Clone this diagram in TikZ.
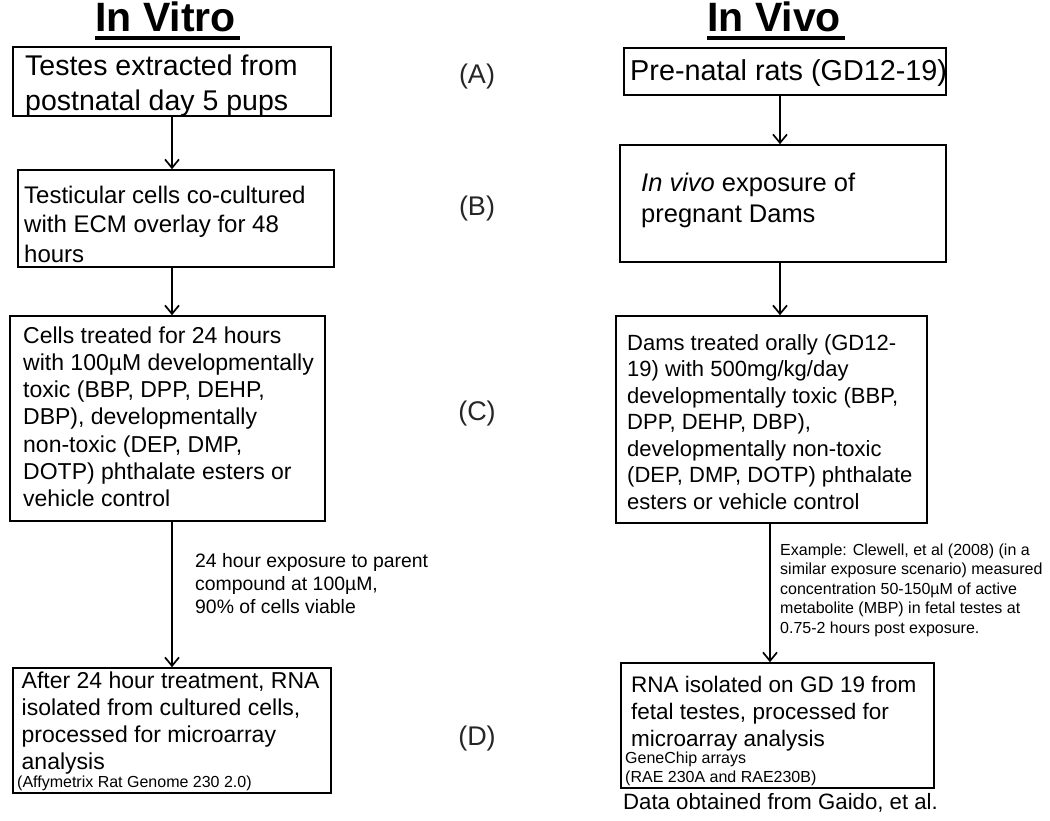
\documentclass[tikz,border=0pt]{standalone}
\usepackage{fontspec}
\setmainfont{Liberation Sans}
\usetikzlibrary{arrows.meta}
\newcommand{\fs}[2]{\fontsize{#1}{#2}\selectfont}
\begin{document}
\begin{tikzpicture}[x=1pt,y=-1pt,
  box/.style={draw, line width=1.6pt, inner sep=0pt},
  txt/.style={inner sep=0pt, anchor=base west, align=left},
  arr/.style={line width=1.6pt, -{Straight Barb[length=8.5pt,width=14pt,line width=1.7pt]}},
  tag/.style={inner sep=0pt, anchor=base, font=\fs{27}{32}, text=black!85}]
\useasboundingbox (0,0) rectangle (1050,820);
% titles
\node[txt, font=\bfseries\fs{41}{50}] (t1) at (95,31) {In Vitro};
\node[txt, font=\bfseries\fs{41}{50}] (t2) at (707,31) {In Vivo};
\draw[line width=3.2pt] (t1.base west) ++(0,7) -- ++(145,0);
\draw[line width=3.2pt] (t2.base west) ++(0,7) -- ++(138,0);
% left boxes
\node[box, minimum width=318pt, minimum height=69pt] (vA) at (172,81.5) {};
\node[box, minimum width=316pt, minimum height=97pt] (vB) at (176,218.5) {};
\node[box, minimum width=315pt, minimum height=205pt] (vC) at (167.5,418.5) {};
\node[box, minimum width=318pt, minimum height=125pt] (vD) at (172,730.5) {};
% right boxes
\node[box, minimum width=322pt, minimum height=47pt] (wA) at (785,71.5) {};
\node[box, minimum width=326pt, minimum height=117pt] (wB) at (783,203.5) {};
\node[box, minimum width=311pt, minimum height=207pt] (wC) at (771.5,419.5) {};
\node[box, minimum width=313pt, minimum height=125pt] (wD) at (777.5,725.5) {};
% left texts (anchor = baseline of last line)
\node[txt, font=\fs{28.5}{35}] (vAt) at (25,110) {Testes extracted from\\postnatal day 5 pups};
\node[txt, font=\fs{24}{29.5}] (vBt) at (24,262) {Testicular cells co-cultured\\with ECM overlay for 48\\hours};
\node[txt, font=\fs{23}{27.3}] (vCt) at (23,506.8) {Cells treated for 24 hours\\with 100µM developmentally\\toxic (BBP, DPP, DEHP,\\DBP), developmentally\\non-toxic (DEP, DMP,\\DOTP) phthalate esters or\\vehicle control};
\node[txt, font=\fs{23}{27}] (vDt) at (21.5,769) {After 24 hour treatment, RNA\\isolated from cultured cells,\\processed for microarray\\analysis};
\node[txt, font=\fs{16}{19}] (vDs) at (17,787) {(Affymetrix Rat Genome 230 2.0)};
\node[txt, font=\fs{19.4}{23}] (vL) at (195,613) {24 hour exposure to parent\\compound at 100µM,\\90\% of cells viable};
% right texts
\node[txt, font=\fs{28.8}{35}] (wAt) at (630,80) {Pre-natal rats (GD12-19)};
\node[txt, font=\fs{25.5}{31}] (wBt) at (641,222) {\textit{In vivo} exposure of\\pregnant Dams};
\node[txt, font=\fs{22}{26.5}] (wCt) at (627,509) {Dams treated orally (GD12-\\19) with 500mg/kg/day\\developmentally toxic (BBP,\\DPP, DEHP, DBP),\\developmentally non-toxic\\(DEP, DMP, DOTP) phthalate\\esters or vehicle control};
\node[txt, font=\fs{16}{19.5}] (wL) at (780,633) {Example: Clewell, et al (2008) (in a\\similar exposure scenario) measured\\concentration 50-150µM of active\\metabolite (MBP) in fetal testes at\\0.75-2 hours post exposure.};
\node[txt, font=\fs{22.5}{27}] (wDt) at (631,746.7) {RNA isolated on GD 19 from\\fetal testes, processed for\\microarray analysis};
\node[txt, font=\fs{16}{19.4}] (wDs) at (625,782.7) {GeneChip arrays\\(RAE 230A and RAE230B)};
\node[txt, font=\fs{22.2}{27}] (src) at (623,809) {Data obtained from Gaido, et al.};
% stage tags
\node[tag] (tA) at (477,83) {(A)};
\node[tag] (tB) at (477,215) {(B)};
\node[tag] (tC) at (477,420) {(C)};
\node[tag] (tD) at (477,745) {(D)};
% connectors
\coordinate (xl) at (172,0);
\coordinate (xr) at (780,0);
\coordinate (xs) at (770,0);
\draw[arr] (vA.south -| xl) -- (vB.north -| xl);
\draw[arr] (vB.south -| xl) -- (vC.north -| xl);
\draw[arr] (vC.south -| xl) -- (vD.north -| xl);
\draw[arr] (wA.south -| xr) -- (wB.north -| xr);
\draw[arr] (wB.south -| xr) -- (wC.north -| xr);
\draw[arr] (wC.south -| xs) -- (wD.north -| xs);
\end{tikzpicture}
\end{document}
